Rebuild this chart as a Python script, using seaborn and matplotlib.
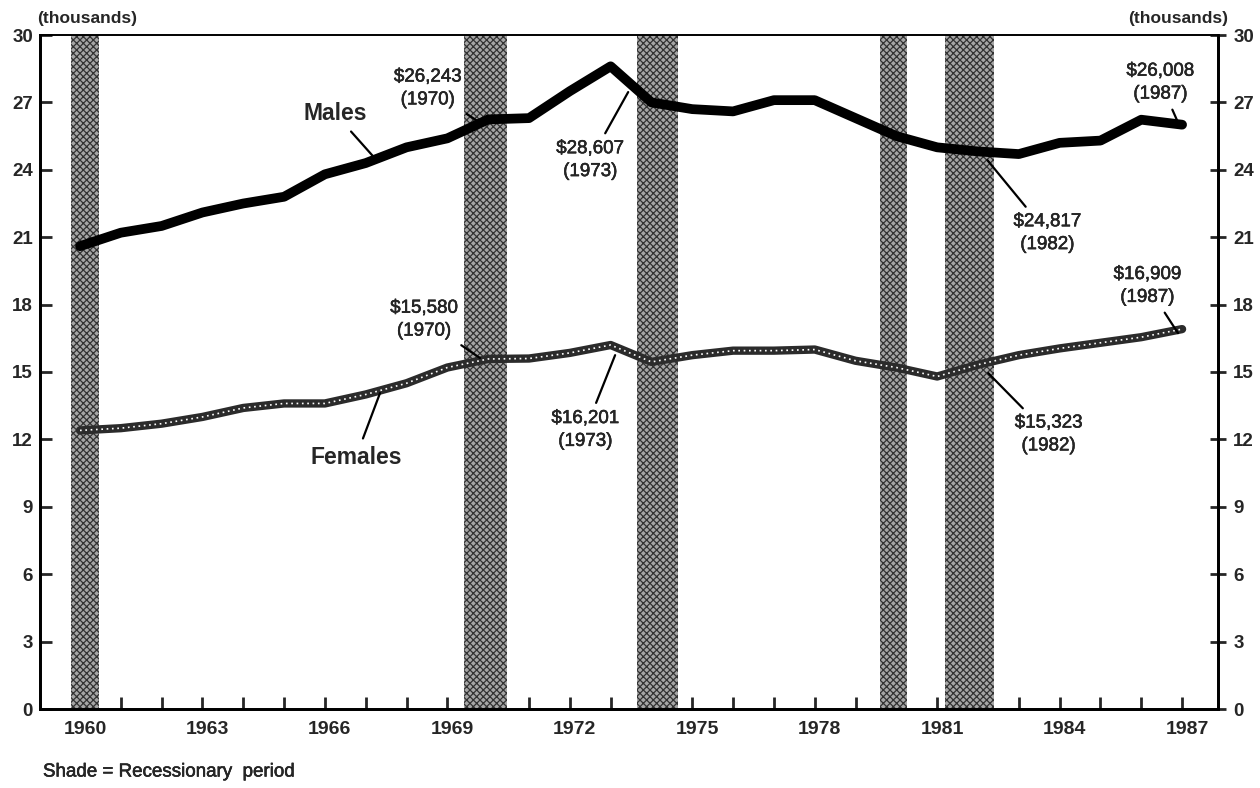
import matplotlib
matplotlib.use('Agg')
import matplotlib.pyplot as plt
import matplotlib.patheffects as pe
from matplotlib.transforms import ScaledTranslation
import numpy as np
import pandas as pd
import seaborn as sns

# Median income, full-time workers (thousands of dollars)
years = list(range(1960, 1988))
males = [20.6, 21.2, 21.5, 22.1, 22.5, 22.8, 23.8, 24.3, 25.0, 25.4, 26.243, 26.3, 27.5, 28.607,
         27.0, 26.7, 26.6, 27.1, 27.1, 26.3, 25.5, 25.0, 24.817, 24.7, 25.2, 25.3, 26.23, 26.008]
females = [12.4, 12.5, 12.7, 13.0, 13.4, 13.6, 13.6, 14.0, 14.5, 15.2, 15.580, 15.6, 15.85, 16.201,
           15.45, 15.75, 15.95, 15.95, 16.0, 15.5, 15.2, 14.8, 15.323, 15.75, 16.05, 16.3, 16.55, 16.909]

# recession shading (as drawn)
rec_start = [1959.78, 1969.41, 1973.65, 1979.61, 1981.18]
rec_end = [1960.47, 1970.47, 1974.66, 1980.25, 1982.38]

y_ticks = list(range(0, 31, 3))
y_labels = [str(v) for v in y_ticks]
x_labels = [str(y) if (y - 1960) % 3 == 0 else '' for y in years]

df = pd.DataFrame({'year': years, 'Males': males, 'Females': females})

sns.set_style('ticks')
plt.rcParams['font.family'] = ['Liberation Sans', 'DejaVu Sans']
plt.rcParams['hatch.linewidth'] = 0.9

fig = plt.figure(figsize=(12.6, 7.88), dpi=100)
ax = fig.add_axes([40 / 1260, 1 - 709 / 788, 1178 / 1260, 674 / 788])

for s, e in zip(rec_start, rec_end):
    ax.axvspan(s, e, facecolor='#a6a6a6', edgecolor='#333333', hatch='xxxxx', linewidth=0, zorder=1)

sns.lineplot(data=df, x='year', y='Males', color='black', linewidth=7, ax=ax, zorder=3)
sns.lineplot(data=df, x='year', y='Females', color='#2b2b2b', linewidth=6, ax=ax, zorder=3)
sns.lineplot(data=df, x='year', y='Females', color='white', linewidth=1.2, ax=ax, zorder=4,
             linestyle=(0, (1, 2.2)))

ax.set_xlim(1959.02, 1987.88)
ax.set_ylim(0, 30)
ax.set_xlabel('')
ax.set_ylabel('')
ax.set_xticks(years)
ax.set_xticklabels(x_labels, fontweight='bold')
ax.set_yticks(y_ticks)
ax.set_yticklabels(y_labels, fontweight='bold')

ax.tick_params(axis='x', direction='in', length=8.5, width=2, pad=9, labelsize=14)
ax.tick_params(axis='y', direction='in', length=8.5, width=2, pad=5, labelsize=13.5, right=False)
shift = ScaledTranslation(5 / 100, 0, fig.dpi_scale_trans)
for lab in ax.get_xticklabels():
    lab.set_transform(lab.get_transform() + shift)

# right-hand axis repeats the scale
ax2 = ax.twinx()
ax2.set_ylim(0, 30)
ax2.set_yticks(y_ticks)
ax2.set_yticklabels(y_labels, fontweight='bold')
ax2.tick_params(axis='y', direction='inout', length=12, width=2, pad=5, labelsize=13.5)

for a in (ax, ax2):
    for side in ['left', 'right', 'bottom']:
        a.spines[side].set_linewidth(2)
        a.spines[side].set_color('black')
    a.spines['top'].set_linewidth(1.2)
    a.spines['top'].set_color('black')

heavy = [pe.withStroke(linewidth=0.35, foreground='black')]
txt = dict(fontsize=13.5, ha='center', va='center', linespacing=1.45, path_effects=heavy, zorder=5)
arrow = dict(arrowstyle='-', color='black', lw=1.6, shrinkA=3, shrinkB=0)

ax.annotate('Males', xy=(1967.23, 24.5), xytext=(1966.25, 26.5), fontsize=16.5,
            fontweight='bold', ha='center', va='center', arrowprops=arrow, zorder=5)
ax.annotate('Females', xy=(1967.35, 14.06), xytext=(1966.76, 11.21), fontsize=16.5,
            fontweight='bold', ha='center', va='center', arrowprops=arrow, zorder=5)

ax.annotate('$26,243\n(1970)', xy=(1969.8, 26.1), xytext=(1968.52, 27.62), arrowprops=arrow, **txt)
ax.annotate('$28,607\n(1973)', xy=(1973.43, 27.46), xytext=(1972.5, 24.43), arrowprops=arrow, **txt)
ax.annotate('$24,817\n(1982)', xy=(1982.23, 24.43), xytext=(1983.7, 21.18), arrowprops=arrow, **txt)
ax.annotate('$26,008\n(1987)', xy=(1986.96, 25.86), xytext=(1986.47, 27.88), arrowprops=arrow, **txt)
ax.annotate('$15,580\n(1970)', xy=(1969.8, 15.62), xytext=(1968.43, 17.33), arrowprops=arrow, **txt)
ax.annotate('$16,201\n(1973)', xy=(1973.11, 15.75), xytext=(1972.38, 12.42), arrowprops=arrow, **txt)
ax.annotate('$15,323\n(1982)', xy=(1982.25, 14.95), xytext=(1983.73, 12.22), arrowprops=arrow, **txt)
ax.annotate('$16,909\n(1987)', xy=(1986.9, 16.73), xytext=(1986.15, 18.83), arrowprops=arrow, **txt)

fig.text(37 / 1260, 1 - 18 / 788, '(thousands)', fontsize=12.5, fontweight='bold', ha='left', va='center')
fig.text(1228 / 1260, 1 - 18 / 788, '(thousands)', fontsize=12.5, fontweight='bold', ha='right', va='center')
fig.text(43 / 1260, 1 - 772 / 788, 'Shade = Recessionary  period', fontsize=13.5, ha='left', va='center',
         path_effects=heavy)

plt.savefig('out.png', dpi=100)
plt.close()
